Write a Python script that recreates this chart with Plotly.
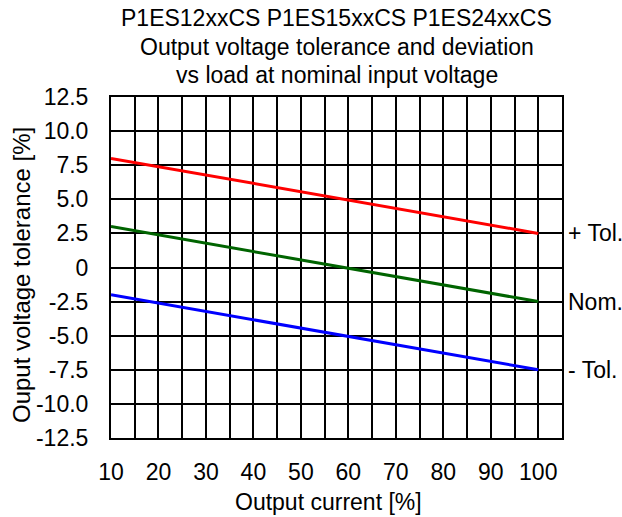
import plotly.graph_objects as go

# Data
load_pct = [10, 100]
plus_tol = [8.0, 2.5]
nominal = [3.0, -2.5]
minus_tol = [-2.0, -7.5]
series_names = ["+ Tol.", "Nom.", "- Tol."]
series_colors = ["#ff0000", "#006400", "#0000ff"]

x_grid = list(range(10, 106, 5))
x_text = [str(v) if v % 10 == 0 and v <= 100 else "" for v in x_grid]
y_vals = [12.5, 10, 7.5, 5, 2.5, 0, -2.5, -5, -7.5, -10, -12.5]
y_text = ["12.5", "10.0", "7.5", "5.0", "2.5", "0", "-2.5", "-5.0", "-7.5", "-10.0", "-12.5"]
title_lines = ["P1ES12xxCS P1ES15xxCS P1ES24xxCS",
               "Output voltage tolerance and deviation",
               "vs load at nominal input voltage"]
x_title = "Output current [%]"
y_title = "Ouput voltage tolerance [%]"

FONT = "Liberation Sans, Arial, sans-serif"
FS = 23

fig = go.Figure()
for name, ys, col in zip(series_names, [plus_tol, nominal, minus_tol], series_colors):
    fig.add_trace(go.Scatter(x=load_pct, y=ys, mode="lines", name=name,
                             line=dict(color=col, width=3), showlegend=False))
    fig.add_annotation(x=1, xref="paper", y=ys[-1], yref="y", text=name,
                       showarrow=False, xanchor="left", yanchor="middle", xshift=4,
                       font=dict(family=FONT, size=FS, color="black"))

for line, shift in zip(title_lines, [79, 50, 22]):
    fig.add_annotation(x=0.5, xref="paper", y=1, yref="paper", text=line,
                       showarrow=False, xanchor="center", yanchor="middle", yshift=shift,
                       font=dict(family=FONT, size=FS, color="black"))

fig.add_annotation(x=0.5, xref="paper", y=0, yref="paper", text=x_title,
                   showarrow=False, xanchor="center", yanchor="middle",
                   xshift=-8, yshift=-64,
                   font=dict(family=FONT, size=FS, color="black"))
fig.add_annotation(x=0, xref="paper", y=0.478, yref="paper", text=y_title,
                   showarrow=False, xanchor="center", yanchor="middle", textangle=-90,
                   xshift=-90,
                   font=dict(family=FONT, size=24, color="black"))

fig.update_layout(
    width=622, height=517,
    margin=dict(l=111, r=60, t=97, b=79),
    paper_bgcolor="white", plot_bgcolor="white",
    font=dict(family=FONT, size=FS, color="black"),
)
fig.update_xaxes(range=[10, 105], tickvals=x_grid, ticktext=x_text,
                 showgrid=True, gridcolor="black", gridwidth=1.5,
                 showline=True, linecolor="black", linewidth=2, mirror=True,
                 zeroline=False, ticks="", ticklabelstandoff=12)
fig.update_yaxes(range=[-12.5, 12.5], tickvals=y_vals, ticktext=y_text,
                 showgrid=True, gridcolor="black", gridwidth=1.5,
                 showline=True, linecolor="black", linewidth=2, mirror=True,
                 zeroline=False, ticks="", ticklabelstandoff=16)

fig.write_html("out.html")
